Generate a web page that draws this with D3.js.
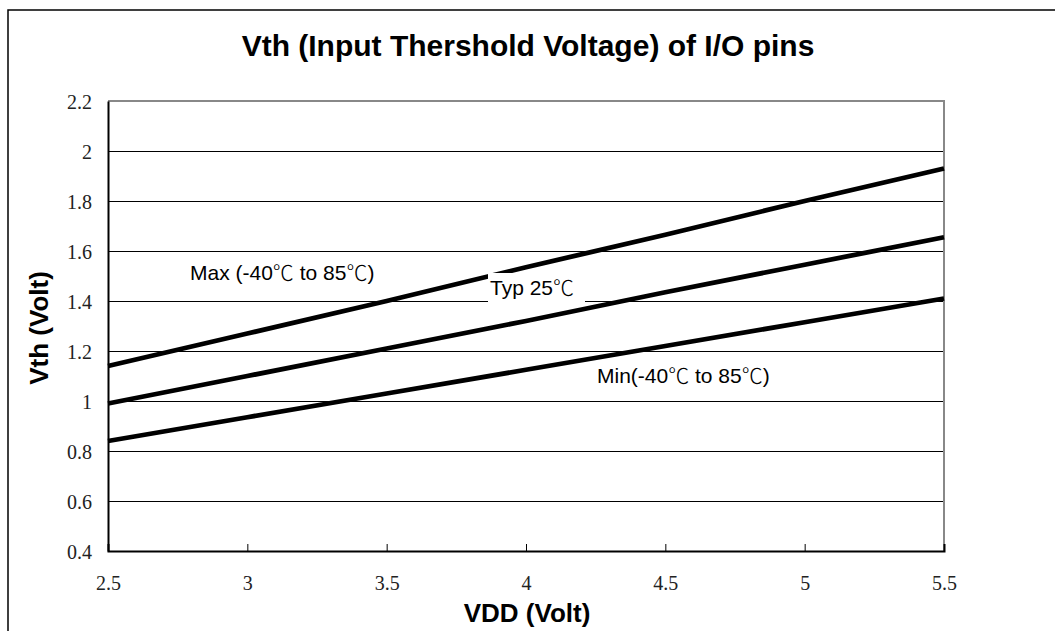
<!DOCTYPE html>
<html>
<head>
<script src="https://d3js.org/d3.v7.min.js"></script>
<style>
  body { margin: 0; background: #fff; }
  .title { font-family: "Liberation Sans", Arial, sans-serif; font-weight: bold; font-size: 30px; fill: #000; }
  .axis-title { font-family: "Liberation Sans", Arial, sans-serif; font-weight: bold; font-size: 26px; fill: #000; }
  .tick text { font-family: "Liberation Serif", "Times New Roman", serif; font-size: 20px; fill: #222; }
  .label { font-family: "Liberation Sans", Arial, "Noto Sans CJK TC", sans-serif; font-size: 21px; fill: #000; }
  .deg { font-family: "Noto Sans CJK TC", sans-serif; font-weight: 300; }
</style>
</head>
<body>
<script>
// data
var vdd = [2.5, 3, 3.5, 4, 4.5, 5, 5.5];
var vthMax = [1.14, 1.27, 1.40, 1.535, 1.665, 1.80, 1.93];
var vthTyp = [0.99, 1.10, 1.21, 1.32, 1.435, 1.545, 1.655];
var vthMin = [0.84, 0.935, 1.03, 1.125, 1.22, 1.315, 1.41];
var xTicks = [2.5, 3, 3.5, 4, 4.5, 5, 5.5];
var yTicks = [0.4, 0.6, 0.8, 1, 1.2, 1.4, 1.6, 1.8, 2, 2.2];

var width = 1055, height = 631;
var margin = { top: 101, right: 111, bottom: 80, left: 108 };

var svg = d3.select("body").append("svg")
  .attr("width", width)
  .attr("height", height);

// outer frame
svg.append("rect")
  .attr("x", 8).attr("y", 10)
  .attr("width", width + 20).attr("height", height + 20)
  .attr("fill", "none").attr("stroke", "#000").attr("stroke-width", 1.5);

var x = d3.scaleLinear().domain([2.5, 5.5]).range([margin.left, width - margin.right]);
var y = d3.scaleLinear().domain([0.4, 2.2]).range([height - margin.bottom, margin.top]);

// gridlines
svg.append("g").selectAll("line")
  .data(yTicks.slice(1, -1))
  .enter().append("line")
  .attr("x1", x(2.5)).attr("x2", x(5.5))
  .attr("y1", function(d) { return Math.round(y(d)) + 0.5; })
  .attr("y2", function(d) { return Math.round(y(d)) + 0.5; })
  .attr("stroke", "#000").attr("stroke-width", 1);

// top and right border (grey)
svg.append("path")
  .attr("d", "M" + x(2.5) + "," + y(2.2) + "H" + x(5.5) + "V" + y(0.4))
  .attr("fill", "none").attr("stroke", "#888").attr("stroke-width", 2);

// axes
var xAxis = svg.append("g")
  .attr("transform", "translate(0," + y(0.4) + ")")
  .call(d3.axisBottom(x).tickValues(xTicks).tickSize(-7).tickPadding(25)
    .tickFormat(function(d) { return d; }));
xAxis.select(".domain").attr("stroke", "#000").attr("stroke-width", 2);
xAxis.selectAll(".tick line").attr("stroke", "#000");

var yAxis = svg.append("g")
  .attr("transform", "translate(" + x(2.5) + ",0)")
  .call(d3.axisLeft(y).tickValues(yTicks).tickSize(0).tickPadding(16)
    .tickFormat(function(d) { return d; }));
yAxis.select(".domain").attr("stroke", "#000").attr("stroke-width", 2);
yAxis.selectAll(".tick text").attr("dy", "0.35em");

// lines
var line = d3.line()
  .x(function(d) { return x(d[0]); })
  .y(function(d) { return y(d[1]); });

[vthMax, vthTyp, vthMin].forEach(function(s) {
  svg.append("path")
    .datum(vdd.map(function(v, i) { return [v, s[i]]; }))
    .attr("d", line)
    .attr("fill", "none")
    .attr("stroke", "#000")
    .attr("stroke-width", 4.8);
});

// labels
function label(px, py, parts, bg) {
  var g = svg.append("g");
  if (bg) {
    g.append("rect")
      .attr("x", bg[0]).attr("y", bg[1]).attr("width", bg[2]).attr("height", bg[3])
      .attr("fill", "#fff");
  }
  var t = g.append("text").attr("class", "label").attr("x", px).attr("y", py);
  parts.forEach(function(p) {
    var ts = t.append("tspan").text(p);
    if (p === "℃") ts.attr("class", "deg");
  });
}
label(190, 280, ["Max (-40", "℃", " to 85", "℃", ")"]);
label(490, 295, ["Typ 25", "℃"], [488, 273, 97, 29]);
label(597, 383, ["Min(-40", "℃", " to 85", "℃", ")"]);

// titles
svg.append("text")
  .attr("class", "title")
  .attr("x", 528).attr("y", 56)
  .attr("text-anchor", "middle")
  .text("Vth (Input Thershold Voltage) of I/O pins");

svg.append("text")
  .attr("class", "axis-title")
  .attr("x", 527).attr("y", 622)
  .attr("text-anchor", "middle")
  .text("VDD (Volt)");

svg.append("text")
  .attr("class", "axis-title")
  .attr("transform", "translate(48,328) rotate(-90)")
  .attr("text-anchor", "middle")
  .text("Vth (Volt)");
</script>
</body>
</html>
